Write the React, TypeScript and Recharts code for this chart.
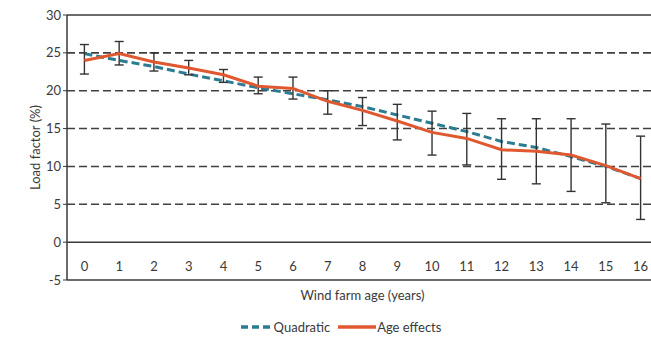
import {
  ComposedChart,
  Line,
  ErrorBar,
  XAxis,
  YAxis,
  CartesianGrid,
  ReferenceLine,
  Legend,
} from "recharts";

const ages = ["0", "1", "2", "3", "4", "5", "6", "7", "8", "9", "10", "11", "12", "13", "14", "15", "16"];
const quadratic = [24.9, 24.0, 23.2, 22.2, 21.3, 20.4, 19.6, 18.8, 17.9, 16.8, 15.7, 14.6, 13.3, 12.5, 11.3, 10.0, 8.4];
const ageEffects = [24.0, 24.9, 23.8, 23.0, 22.1, 20.6, 20.3, 18.6, 17.4, 16.0, 14.5, 13.7, 12.2, 12.0, 11.5, 10.1, 8.4];
const ciLow = [22.2, 23.4, 22.6, 22.1, 21.1, 19.6, 18.9, 16.9, 15.4, 13.5, 11.5, 10.2, 8.3, 7.7, 6.7, 5.2, 3.0];
const ciHigh = [26.1, 26.5, 25.0, 24.0, 22.8, 21.8, 21.8, 20.0, 19.1, 18.2, 17.3, 17.0, 16.3, 16.3, 16.3, 15.6, 14.0];
const yTicks = [-5, 0, 5, 10, 15, 20, 25, 30];
const gridValues = [5, 10, 15, 20, 25];

const QUAD_COLOR = "#2b7c92";
const AGE_COLOR = "#e0582f";
const INK = "#3a3a3a";
const FONT = "Lato, 'Open Sans', sans-serif";

const data = ages.map((age, i) => ({
  age,
  quadratic: quadratic[i],
  ageEffects: ageEffects[i],
  err: [ageEffects[i] - ciLow[i], ciHigh[i] - ageEffects[i]],
}));

// labels sit inside the plot, between the 0 and -5 lines
function AgeTick(props: any) {
  const { x, y, payload } = props;
  return (
    <text x={x} y={y - 20} textAnchor="middle" dominantBaseline="middle" fontSize={13} fill={INK} fontFamily={FONT}>
      {payload.value}
    </text>
  );
}

function LegendContent() {
  return (
    <div
      style={{
        display: "flex",
        justifyContent: "center",
        alignItems: "center",
        paddingTop: 17,
        paddingLeft: 20,
        fontFamily: FONT,
        fontSize: 13,
        color: INK,
      }}
    >
      <svg width={32} height={6}>
        <line x1={1} y1={3} x2={31} y2={3} stroke={QUAD_COLOR} strokeWidth={3.5} strokeDasharray="7 4" />
      </svg>
      <span style={{ marginLeft: 2, marginRight: 8 }}>Quadratic</span>
      <svg width={38} height={6}>
        <line x1={0} y1={3} x2={38} y2={3} stroke={AGE_COLOR} strokeWidth={3.5} />
      </svg>
      <span style={{ marginLeft: 1 }}>Age effects</span>
    </div>
  );
}

export default function App() {
  return (
    <div style={{ position: "absolute", left: 0, top: 0, width: 651, height: 340, overflow: "hidden", background: "#fff" }}>
      <ComposedChart width={665} height={340} data={data} margin={{ top: 15, right: 7, left: 3, bottom: 5 }}>
        <CartesianGrid
          vertical={false}
          horizontalValues={gridValues}
          stroke="#404040"
          strokeWidth={1.6}
          strokeDasharray="8 4"
        />
        <XAxis
          dataKey="age"
          tick={<AgeTick />}
          tickLine={false}
          axisLine={{ stroke: INK, strokeWidth: 1.5 }}
          height={22}
          interval={0}
          padding={{ left: 17.4, right: 17.4 }}
          label={{ value: "Wind farm age (years)", position: "insideBottom", offset: 2, fontSize: 13, fill: INK, fontFamily: FONT }}
        />
        <YAxis
          type="number"
          domain={[-5, 30]}
          ticks={yTicks}
          interval={0}
          width={64}
          tickSize={4}
          tickLine={{ stroke: INK }}
          axisLine={{ stroke: INK, strokeWidth: 1.5 }}
          tick={{ fontSize: 13, fill: INK, fontFamily: FONT }}
          label={{ value: "Load factor (%)", angle: -90, position: "center", fontSize: 13, fill: INK, fontFamily: FONT }}
        />
        <ReferenceLine y={0} stroke={INK} strokeWidth={1.5} />
        <ReferenceLine y={30} stroke={INK} strokeWidth={1.5} />
        <Legend verticalAlign="bottom" content={<LegendContent />} />
        <Line
          dataKey="quadratic"
          stroke={QUAD_COLOR}
          strokeWidth={3}
          strokeDasharray="8 4"
          dot={false}
          isAnimationActive={false}
        />
        <Line dataKey="ageEffects" stroke={AGE_COLOR} strokeWidth={3} dot={false} isAnimationActive={false}>
          <ErrorBar dataKey="err" direction="y" width={4.5} stroke="#333" strokeWidth={1.4} />
        </Line>
      </ComposedChart>
    </div>
  );
}
